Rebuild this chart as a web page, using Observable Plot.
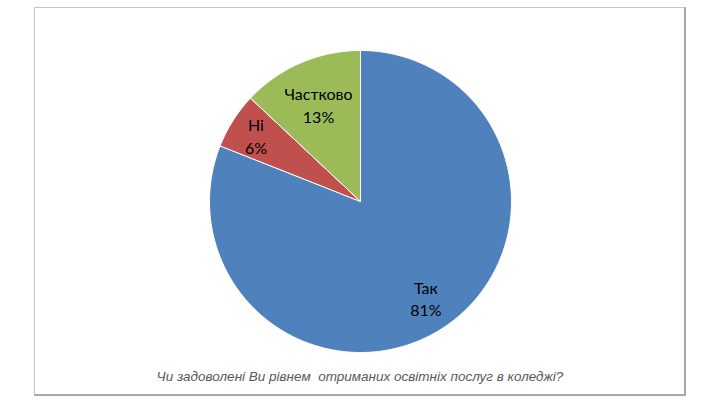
<!DOCTYPE html>
<html>
<head>
<meta charset="utf-8">
<script src="https://cdn.jsdelivr.net/npm/d3@7"></script>
<script src="https://cdn.jsdelivr.net/npm/@observablehq/plot@0.6"></script>
<style>
  html, body { margin: 0; padding: 0; background: #fff; }
  #wrap { position: relative; width: 720px; height: 405px; overflow: hidden; }
  #frame { position: absolute; left: 34px; top: 7px; width: 649px; height: 386px;
           border: 1px solid #c4c4c4; border-right: 2px solid #a8a8a8; border-bottom: 2px solid #a8a8a8; box-sizing: content-box; }
  #chart { position: absolute; left: 0; top: 0; }
  #title { position: absolute; left: 0; width: 720px; top: 369px; text-align: center;
           font-family: "Liberation Sans", Arial, sans-serif; font-style: italic; font-size: 13.5px; color: #595959; white-space: pre; }
</style>
</head>
<body>
<div id="wrap">
  <div id="frame"></div>
  <div id="chart"></div>
  <div id="title">Чи задоволені Ви рівнем  отриманих освітніх послуг в коледжі?</div>
</div>
<script>
const categories = ["Так", "Ні", "Частково"];
const values = [81, 6, 13];
const colors = ["#4F81BD", "#C0504D", "#9BBB59"];

// label placement (layout only): fraction of the radius for each slice's label
const labelRadius = {"Так": 0.77, "Ні": 0.82, "Частково": 0.70};

const data = categories.map((c, i) => ({label: c, value: values[i]}));
const arcs = d3.pie().sort(null).value(d => d.value)(data);

// Build slice polygons from the pie angles
const slicePts = [];
for (const a of arcs) {
  const n = Math.max(2, Math.ceil((a.endAngle - a.startAngle) / (Math.PI / 180)));
  slicePts.push({label: a.data.label, x: 0, y: 0});
  for (let k = 0; k <= n; k++) {
    const t = a.startAngle + (a.endAngle - a.startAngle) * k / n;
    slicePts.push({label: a.data.label, x: Math.sin(t), y: Math.cos(t)});
  }
  slicePts.push({label: a.data.label, x: 0, y: 0});
}

const labels = arcs.map(a => {
  const m = (a.startAngle + a.endAngle) / 2;
  const r = labelRadius[a.data.label];
  return {x: r * Math.sin(m), y: r * Math.cos(m), text: a.data.label + "\n" + a.data.value + "%"};
});

const chart = Plot.plot({
  width: 720,
  height: 405,
  marginLeft: 209,
  marginRight: 209,
  marginTop: 50,
  marginBottom: 53,
  x: {domain: [-1, 1], axis: null},
  y: {domain: [-1, 1], axis: null},
  color: {domain: categories, range: colors},
  style: {background: "transparent"},
  marks: [
    Plot.line(slicePts, {x: "x", y: "y", z: "label", fill: "label", stroke: "white", strokeWidth: 1, strokeLinejoin: "round"}),
    Plot.text(labels, {x: "x", y: "y", text: "text", fontSize: 16, lineHeight: 1.4, fill: "black", fontWeight: 400,
      fontFamily: "Lato, 'Open Sans', sans-serif"})
  ]
});
document.getElementById("chart").appendChild(chart);
</script>
</body>
</html>
